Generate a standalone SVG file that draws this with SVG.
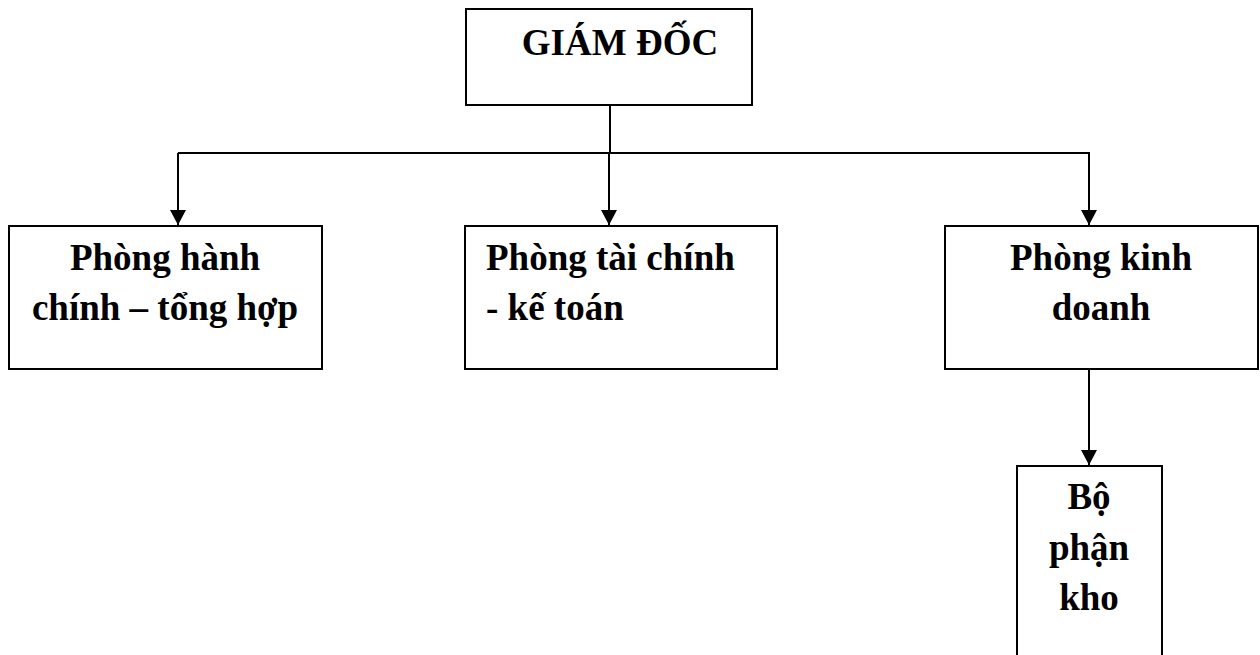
<svg xmlns="http://www.w3.org/2000/svg" width="1260" height="655" viewBox="0 0 1260 655">
<defs>
<style>
.box{fill:#fff;stroke:#000;stroke-width:2}
.t{font-family:"Liberation Serif","Times New Roman",serif;font-weight:bold;font-size:37px;fill:#000}
.c{text-anchor:middle}
.ln{fill:none;stroke:#000;stroke-width:2}
</style>
<marker id="ah" viewBox="0 0 16 15" refX="8" refY="15" markerWidth="16" markerHeight="15" markerUnits="userSpaceOnUse" orient="0">
<path d="M0,0 L16,0 L8,15 Z" fill="#000"/>
</marker>
</defs>
<rect width="1260" height="655" fill="#fff"/>
<g id="connectors">
<line class="ln" x1="610" y1="105" x2="610" y2="153"/>
<line class="ln" x1="178" y1="153" x2="1090" y2="153"/>
<path class="ln" d="M178,153 V225" marker-end="url(#ah)"/>
<path class="ln" d="M609,153 V225" marker-end="url(#ah)"/>
<path class="ln" d="M1089,153 V225" marker-end="url(#ah)"/>
<path class="ln" d="M1089,369 V465" marker-end="url(#ah)"/>
</g>
<g id="giam-doc">
<rect class="box" x="466" y="9" width="286" height="96"/>
<text class="t c" x="620" y="55">GIÁM ĐỐC</text>
</g>
<g id="phong-hanh-chinh">
<rect class="box" x="9" y="226" width="313" height="143"/>
<text class="t c" x="165" y="270">Phòng hành</text>
<text class="t c" x="165" y="320">chính – tổng hợp</text>
</g>
<g id="phong-tai-chinh">
<rect class="box" x="465" y="226" width="312" height="143"/>
<text class="t" x="486" y="270">Phòng tài chính</text>
<text class="t" x="486" y="320">- kế toán</text>
</g>
<g id="phong-kinh-doanh">
<rect class="box" x="945" y="226" width="313" height="143"/>
<text class="t c" x="1101" y="270">Phòng kinh</text>
<text class="t c" x="1101" y="320">doanh</text>
</g>
<g id="bo-phan-kho">
<rect class="box" x="1017" y="466" width="145" height="200"/>
<text class="t c" x="1089" y="509">Bộ</text>
<text class="t c" x="1089" y="560">phận</text>
<text class="t c" x="1089" y="610">kho</text>
</g>
</svg>
